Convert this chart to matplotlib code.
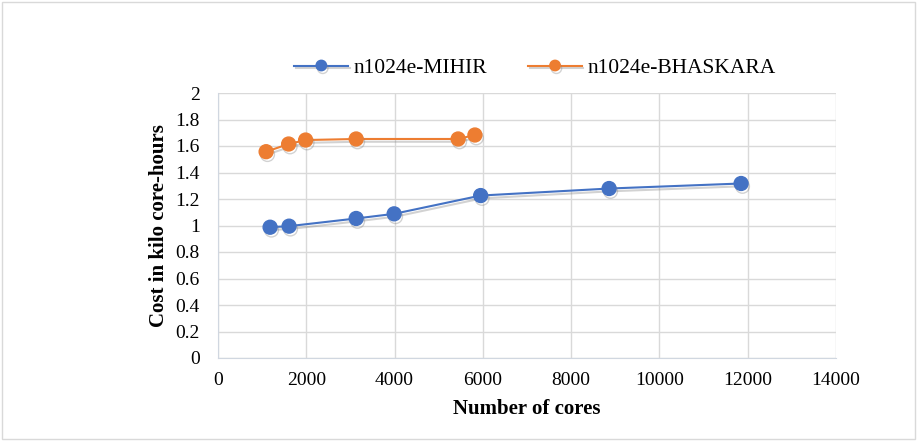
import matplotlib
matplotlib.use('Agg')
import matplotlib.pyplot as plt
import matplotlib.patheffects as pe
from matplotlib.patches import Rectangle

plt.rcParams['font.family'] = ['Liberation Serif', 'DejaVu Serif']

# data
mihir_cores = [1180, 1610, 3130, 3990, 5950, 8860, 11850]
mihir_cost = [0.987, 0.995, 1.053, 1.088, 1.226, 1.279, 1.317]
bhaskara_cores = [1090, 1600, 1985, 3130, 5440, 5820]
bhaskara_cost = [1.557, 1.615, 1.645, 1.653, 1.653, 1.683]

x_ticks = list(range(0, 14001, 2000))
y_ticks = [0, 0.2, 0.4, 0.6, 0.8, 1, 1.2, 1.4, 1.6, 1.8, 2]
y_tick_labels = ['0', '0.2', '0.4', '0.6', '0.8', '1', '1.2', '1.4', '1.6', '1.8', '2']

blue = '#4472C4'
orange = '#ED7D31'
grid_c = '#D9D9D9'

fig = plt.figure(figsize=(9.17, 4.41), dpi=100)
ax = fig.add_axes([218/917, 1-358/441, (836-218)/917, (358-93)/441])

shadow = [pe.SimpleLineShadow(offset=(1, -2), shadow_color='gray', alpha=0.35), pe.Normal()]

l1, = ax.plot(mihir_cores, mihir_cost, color=blue, lw=1.5, marker='o', ms=10,
              label='n1024e-MIHIR', path_effects=shadow, zorder=3)
l2, = ax.plot(bhaskara_cores, bhaskara_cost, color=orange, lw=1.5, marker='o', ms=10,
              label='n1024e-BHASKARA', path_effects=shadow, zorder=3)

ax.set_xlim(0, 14000)
ax.set_ylim(0, 2)
ax.set_xticks(x_ticks)
ax.set_yticks(y_ticks)
ax.set_yticklabels(y_tick_labels)
ax.grid(True, color=grid_c, lw=1)
ax.set_axisbelow(True)
for s in ['top', 'right']:
    ax.spines[s].set_visible(False)
for s in ['left', 'bottom']:
    ax.spines[s].set_color('#D0D7E0')
ax.tick_params(length=0, labelsize=14, colors='black')
ax.tick_params(axis='y', pad=13)
ax.tick_params(axis='x', pad=10)

ax.set_xlabel('Number of cores', fontsize=15, fontweight='bold', labelpad=7)
ax.set_ylabel('Cost in kilo core-hours', fontsize=15, fontweight='bold', labelpad=5)

fig.legend(handles=[l1, l2], loc='center', bbox_to_anchor=(535/917, 1-68/441),
           ncol=2, frameon=False, fontsize=15.5, handlelength=2.5, handletextpad=0.25,
           columnspacing=1.9, markerscale=0.75)

fig.patches.append(Rectangle((0.002, 0.004), 0.996, 0.992, transform=fig.transFigure,
                             fill=False, edgecolor=grid_c, lw=1))

fig.savefig('out.png', dpi=100)
